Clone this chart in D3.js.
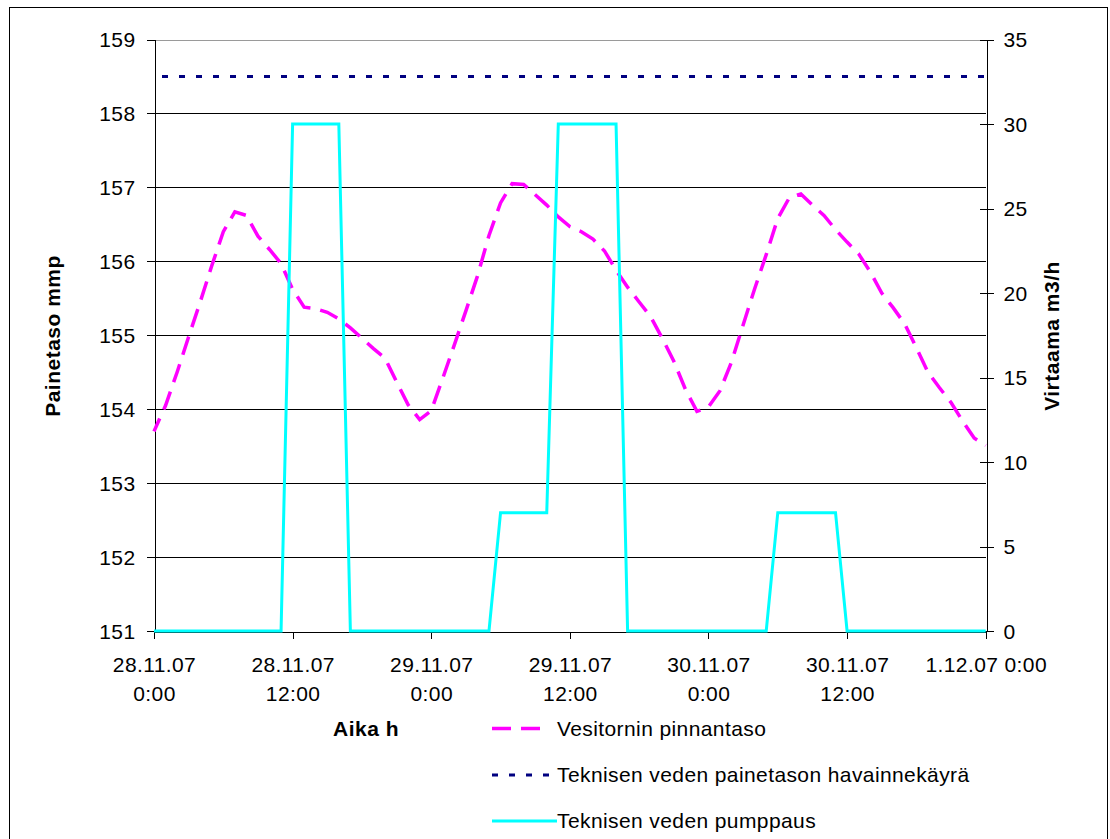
<!DOCTYPE html>
<html>
<head>
<meta charset="utf-8">
<script src="https://cdn.jsdelivr.net/npm/d3@7"></script>
<style>
  body { margin: 0; background: #fff; }
  text { font-family: "Liberation Sans", Arial, sans-serif; fill: #000; }
</style>
</head>
<body>
<svg id="chart" width="1110" height="839"></svg>
<script>
// Hourly samples, 28.11.07 0:00 .. 1.12.07 0:00 (hours from start)
const hours = d3.range(0, 73);

// Vesitornin pinnantaso (mmp), one value per hour
const levelValues = [
  153.70, 154.05, 154.50, 154.98, 155.45, 155.94, 156.40, 156.67, 156.62, 156.34,
  156.16, 155.97, 155.62, 155.38, 155.36, 155.31, 155.22, 155.10, 154.96, 154.82,
  154.69, 154.37, 154.06, 153.86, 153.98, 154.42, 154.87, 155.33, 155.80, 156.35,
  156.79, 157.05, 157.04, 156.90, 156.76, 156.60, 156.47, 156.40, 156.30, 156.14,
  155.88, 155.65, 155.45, 155.25, 154.96, 154.65, 154.27, 153.97, 154.03, 154.25,
  154.64, 155.14, 155.63, 156.09, 156.58, 156.86, 156.91, 156.76, 156.62, 156.43,
  156.26, 156.10, 155.86, 155.57, 155.37, 155.15, 154.83, 154.50, 154.29, 154.09,
  153.84, 153.61, 153.51
];

// Teknisen veden painetason havainnekäyrä (mmp)
const refHours = [0, 72];
const refValues = [158.5, 158.5];

// Teknisen veden pumppaus (m3/h), one value per hour
const pumpValues = [
  0, 0, 0, 0, 0, 0, 0, 0, 0, 0, 0, 0,
  30, 30, 30, 30, 30,
  0, 0, 0, 0, 0, 0, 0, 0, 0, 0, 0, 0, 0,
  7, 7, 7, 7, 7,
  30, 30, 30, 30, 30, 30,
  0, 0, 0, 0, 0, 0, 0, 0, 0, 0, 0, 0, 0,
  7, 7, 7, 7, 7, 7,
  0, 0, 0, 0, 0, 0, 0, 0, 0, 0, 0, 0, 0
];

// Axis ticks and labels
const xTickHours = [0, 12, 24, 36, 48, 60, 72];
const xTickDates = ["28.11.07", "28.11.07", "29.11.07", "29.11.07", "30.11.07", "30.11.07", "1.12.07 0:00"];
const xTickTimes = ["0:00", "12:00", "0:00", "12:00", "0:00", "12:00", ""];
const leftTicks = [151, 152, 153, 154, 155, 156, 157, 158, 159];
const rightTicks = [0, 5, 10, 15, 20, 25, 30, 35];

const seriesNames = [
  "Vesitornin pinnantaso",
  "Teknisen veden painetason havainnekäyrä",
  "Teknisen veden pumppaus"
];

const svg = d3.select("#chart");
const plot = { left: 154, right: 985.7, top: 39.5, bottom: 631 };

const x = d3.scaleLinear().domain([0, 72]).range([plot.left, plot.right]);
const yL = d3.scaleLinear().domain([151, 159]).range([plot.bottom, plot.top]);
const yR = d3.scaleLinear().domain([0, 35]).range([plot.bottom, plot.top]);

const FS = 21;
const LS = 0.4;

// outer chart border
svg.append("rect")
  .attr("x", 9.5).attr("y", 7.5).attr("width", 1098).attr("height", 850)
  .attr("fill", "none").attr("stroke", "#000").attr("stroke-width", 1);

// horizontal gridlines
svg.append("g").selectAll("line")
  .data(leftTicks.filter(v => v > 151))
  .join("line")
  .attr("x1", plot.left).attr("x2", plot.right)
  .attr("y1", d => Math.round(yL(d)) + 0.5).attr("y2", d => Math.round(yL(d)) + 0.5)
  .attr("stroke", d => d === 159 ? "#9a9a9a" : "#000")
  .attr("stroke-width", d => d === 159 ? 1.5 : 1)
  .attr("shape-rendering", "crispEdges");

function styleAxis(g) {
  g.select(".domain").attr("stroke", "#000").attr("shape-rendering", "crispEdges");
  g.selectAll(".tick line").attr("stroke", "#000").attr("shape-rendering", "crispEdges");
  g.selectAll("text").style("font-size", FS + "px").style("letter-spacing", LS + "px").attr("fill", "#000");
}

// left axis
const gL = svg.append("g")
  .attr("transform", `translate(${Math.round(plot.left) + 0.5},0)`)
  .call(d3.axisLeft(yL).tickValues(leftTicks).tickSize(8).tickSizeOuter(0).tickPadding(11).tickFormat(d3.format("d")));
styleAxis(gL);
gL.selectAll("text").attr("dy", "0.35em");

// right axis (ticks crossing the line)
const gR = svg.append("g")
  .attr("transform", `translate(${Math.round(plot.right) + 0.5},0)`)
  .call(d3.axisRight(yR).tickValues(rightTicks).tickSize(7).tickSizeOuter(0).tickPadding(10).tickFormat(d3.format("d")));
styleAxis(gR);
gR.selectAll("text").attr("dy", "0.35em");
const gR2 = svg.append("g")
  .attr("transform", `translate(${Math.round(plot.right) + 0.5},0)`)
  .call(d3.axisLeft(yR).tickValues(rightTicks).tickSize(7).tickSizeOuter(0).tickFormat(""));
styleAxis(gR2);
gR2.select(".domain").remove();

// bottom axis with two-line date labels
const gB = svg.append("g")
  .attr("transform", `translate(0,${Math.round(plot.bottom) + 0.5})`)
  .call(d3.axisBottom(x).tickValues(xTickHours).tickSize(7).tickSizeOuter(0).tickFormat(""));
styleAxis(gB);
gB.selectAll(".tick").each(function(d, i) {
  const t = d3.select(this);
  t.append("text").attr("y", 40).attr("text-anchor", "middle")
    .style("font-size", FS + "px").style("letter-spacing", LS + "px")
    .text(xTickDates[i]);
  if (xTickTimes[i]) {
    t.append("text").attr("y", 69).attr("text-anchor", "middle")
      .style("font-size", FS + "px").style("letter-spacing", LS + "px")
      .text(xTickTimes[i]);
  }
});

// axis titles
svg.append("text")
  .attr("transform", "translate(60,336) rotate(-90)")
  .attr("text-anchor", "middle")
  .style("font-size", FS + "px").style("font-weight", "bold").style("letter-spacing", "0.5px")
  .text("Painetaso mmp");
svg.append("text")
  .attr("transform", "translate(1059,336) rotate(-90)")
  .attr("text-anchor", "middle")
  .style("font-size", FS + "px").style("font-weight", "bold").style("letter-spacing", "0.5px")
  .text("Virtaama m3/h");
svg.append("text")
  .attr("x", 366).attr("y", 735.5)
  .attr("text-anchor", "middle")
  .style("font-size", FS + "px").style("font-weight", "bold").style("letter-spacing", "0.5px")
  .text("Aika h");

// series lines
const levelLine = d3.line().x((d, i) => x(hours[i])).y(d => yL(d));
svg.append("path")
  .datum(levelValues)
  .attr("d", levelLine)
  .attr("fill", "none").attr("stroke", "#FF00FF").attr("stroke-width", 3.5)
  .attr("stroke-dasharray", "19 10").attr("stroke-dashoffset", 5);

const refLine = d3.line().x((d, i) => x(refHours[i])).y(d => yL(d));
svg.append("path")
  .datum(refValues)
  .attr("d", refLine)
  .attr("fill", "none").attr("stroke", "#000080").attr("stroke-width", 3)
  .attr("stroke-dasharray", "6 11").attr("stroke-dashoffset", 9);

const pumpLine = d3.line().x((d, i) => x(hours[i])).y(d => yR(d));
svg.append("path")
  .datum(pumpValues)
  .attr("d", pumpLine)
  .attr("fill", "none").attr("stroke", "#00FFFF").attr("stroke-width", 3)
  .attr("stroke-linejoin", "miter");

// legend
const legendStyles = [
  { stroke: "#FF00FF", width: 3.5, dash: "19 10", x2: 541 },
  { stroke: "#000080", width: 3, dash: "6 11", x2: 556 },
  { stroke: "#00FFFF", width: 3, dash: null, x2: 557 }
];
const legendRows = [728.5, 775, 821];
const lg = svg.append("g");
seriesNames.forEach((name, i) => {
  const s = legendStyles[i];
  const l = lg.append("line")
    .attr("x1", 492).attr("x2", s.x2)
    .attr("y1", legendRows[i]).attr("y2", legendRows[i])
    .attr("stroke", s.stroke).attr("stroke-width", s.width);
  if (s.dash) l.attr("stroke-dasharray", s.dash);
  lg.append("text")
    .attr("x", 557).attr("y", legendRows[i]).attr("dy", "0.35em")
    .style("font-size", FS + "px").style("letter-spacing", LS + "px")
    .text(name);
});
</script>
</body>
</html>
